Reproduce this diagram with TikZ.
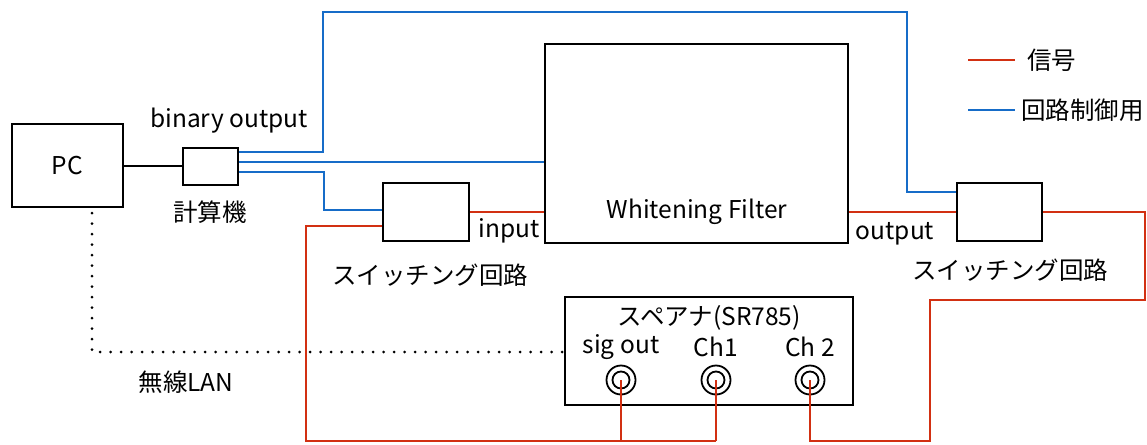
\documentclass[tikz,border=0pt]{standalone}
\usepackage{fontspec}
\setmainfont{Noto Sans CJK JP}
\usetikzlibrary{calc,positioning}
\definecolor{sigred}{RGB}{210,48,18}
\definecolor{ctlblue}{RGB}{22,108,200}

\begin{document}
\begin{tikzpicture}[x=1pt,y=-1pt,font=\fontsize{24.5}{26}\selectfont,
    box/.style={draw,line width=2.2pt,inner sep=0pt},
    sig/.style={sigred,line width=2pt},
    ctl/.style={ctlblue,line width=2pt},
    port/.style={draw,circle,line width=1.8pt,inner sep=0pt}]
  \useasboundingbox (0,0) rectangle (1147,444);
  % boxes
  \node[box,minimum width=111pt,minimum height=83pt] (pc) at (67.5,165.5) {PC};
  \node[box,minimum width=55pt,minimum height=37pt] (calc) at (210.5,166.5) {};
  \node[box,minimum width=86pt,minimum height=58pt] (swL) at (426,212) {};
  \node[box,minimum width=303pt,minimum height=199pt] (wf) at (696.5,143.5) {};
  \node[box,minimum width=85pt,minimum height=58pt] (swR) at (999.5,212) {};
  \node[box,minimum width=288pt,minimum height=108pt] (sa) at (709,351) {};
  % labels
  \node (lbin) at (229,121) {binary output};
  \node (lcalc) at (210,212) {計算機};
  \node (lswL) at (430,275) {スイッチング回路};
  \node (lswR) at (1010,270) {スイッチング回路};
  \node (lin) at (509,231) {input};
  \node (lout) at (895,234) {output};
  \node (lwf) at (697,212) {Whitening Filter};
  \node (llan) at (186,382) {無線LAN};
  \node (lsa) at (709,318) {スペアナ(SR785)};
  \node (lp1) at (621,347) {sig out};
  \node (lp2) at (716,347) {Ch1};
  \node (lp3) at (810,347) {Ch 2};
  % spectrum analyser ports
  \foreach \n/\x in {p1/621,p2/716,p3/810}{
    \node[port,minimum size=29pt] (\n) at (\x,380) {};
    \node[port,minimum size=17pt] at (\n) {};
  }
  % PC to computer
  \draw[line width=2pt] (pc.east) -- (calc.west |- pc.east);
  % wireless LAN
  \draw[line width=3pt,line cap=round,dash pattern=on 0pt off 10.5pt]
    (pc.south -| 92,0) ++(0,5) -- (92,352) -- (sa.west |- 0,352);
  % control lines
  \draw[ctl] (calc.east |- 0,152) -- (323,152) -- (323,12) -- (907,12)
    -- (907,192) -- (swR.west |- 0,192);
  \draw[ctl] (calc.east |- 0,162) -- (wf.west |- 0,162);
  \draw[ctl] (calc.east |- 0,172) -- (324,172) -- (324,210) -- (swL.west |- 0,210);
  % signal lines
  \draw[sig] (swL.east) -- (wf.west |- swL.east);
  \draw[sig] (wf.east |- swR.west) -- (swR.west);
  \draw[sig] (swL.west |- 0,226) -- (306,226) -- (306,441) -- (716,441);
  \draw[sig] (p1.center) -- (621,441);
  \draw[sig] (p2.center) -- (716,441);
  \draw[sig] (p3.center) -- (810,441) -- (930,441) -- (930,300) -- (1145,300)
    -- (1145,212) -- (swR.east);
  % legend
  \coordinate (r1) at (968,60);
  \coordinate (b1) at (968,110);
  \draw[sig] (r1) -- ++(47,0) node[right=8pt,black] (lsig) {信号};
  \draw[ctl] (b1) -- ++(47,0) node[right=2pt,black] (lctl) {回路制御用};
\end{tikzpicture}
\end{document}
